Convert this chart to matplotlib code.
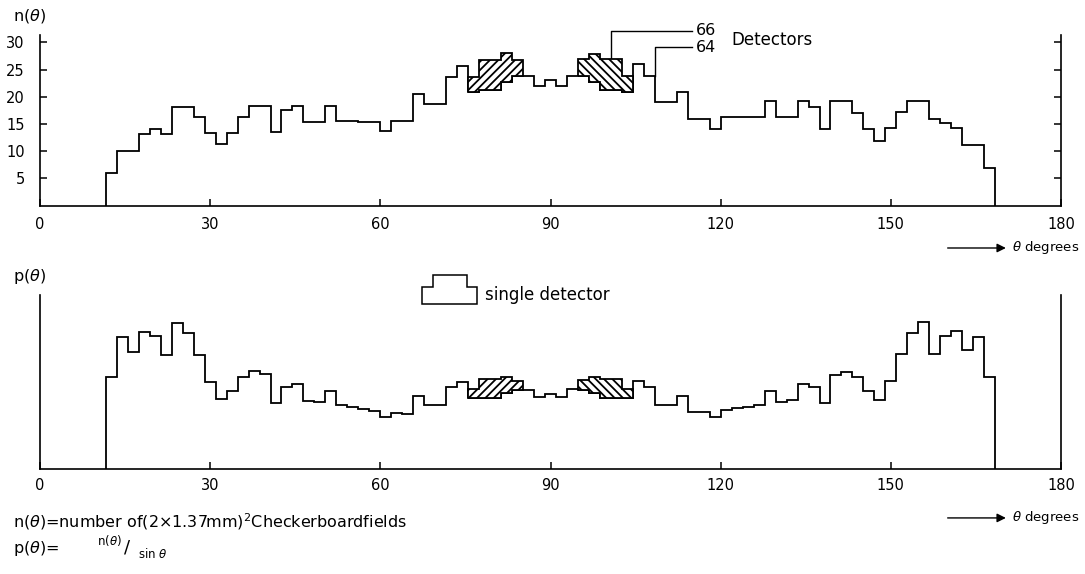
import numpy as np
import matplotlib
matplotlib.use("Agg")
import matplotlib.pyplot as plt
from matplotlib.patches import Polygon

plt.rcParams['font.family'] = ['DejaVu Sans']
plt.rcParams['hatch.linewidth'] = 1.3
plt.rcParams['mathtext.fontset'] = 'dejavusans'

# ---------------- data ----------------
theta_first, theta_last, n_bins = 11.6, 168.4, 81
x_ticks = [0, 30, 60, 90, 120, 150, 180]
n_ticks = [5, 10, 15, 20, 25, 30]

# n(theta) for 64 detectors, one value per bin
n64 = [6.0, 10.0, 10.0, 13.2, 14.0, 13.2, 18.2, 18.2, 16.2, 13.3,
       11.3, 13.4, 16.2, 18.4, 18.4, 13.5, 17.5, 18.4, 15.4, 15.4,
       18.4, 15.5, 15.5, 15.4, 15.4, 13.7, 15.6, 15.6, 20.6, 18.7,
       18.7, 23.7, 25.7, 20.9, 21.3, 21.3, 22.8, 23.8, 23.8, 22.0,
       23.0, 22.0, 23.8, 23.8, 22.8, 21.3, 21.3, 20.9, 26.0, 23.8,
       19.1, 19.1, 20.9, 16.0, 16.0, 14.1, 16.2, 16.2, 16.2, 16.2,
       19.2, 16.2, 16.2, 19.2, 18.1, 14.1, 19.2, 19.2, 17.1, 14.1,
       11.9, 14.2, 17.2, 19.2, 19.2, 16.0, 15.1, 14.2, 11.1, 11.1,
       7.0]
# n(theta) for 66 detectors where it differs (hatched bins)
left_start, right_start = 33, 43
n66_left = [23.7, 26.8, 26.8, 28.0, 26.8]
n66_right = [26.9, 27.9, 26.9, 26.9, 23.8]

# p(theta) = n(theta)/sin(theta)
p64 = [27.9, 40.2, 35.6, 41.7, 40.4, 34.6, 44.2, 41.4, 34.6, 26.4,
       21.2, 23.8, 27.9, 29.9, 28.9, 20.2, 25.0, 25.9, 20.8, 20.3,
       23.8, 19.4, 18.8, 18.3, 17.8, 15.8, 17.0, 16.8, 22.2, 19.5,
       19.5, 24.8, 26.3, 21.5, 21.7, 21.6, 23.0, 23.9, 24.0, 21.8,
       22.7, 21.8, 24.2, 23.9, 23.0, 21.6, 21.7, 21.5, 26.8, 25.0,
       19.5, 19.5, 22.2, 17.5, 17.5, 15.8, 18.0, 18.5, 19.0, 19.4,
       23.8, 20.5, 21.0, 25.8, 25.0, 20.2, 28.6, 29.6, 27.9, 23.8,
       21.0, 26.8, 34.9, 41.4, 44.7, 34.9, 40.4, 41.9, 36.2, 40.2,
       28.1]
p66_left = [24.4, 27.3, 27.3, 28.1, 26.7]
p66_right = [26.9, 28.1, 27.3, 27.3, 24.4]

edges = np.linspace(theta_first, theta_last, n_bins + 1)

# ---------------- figure ----------------
W, H = 1085, 574
fig = plt.figure(figsize=(W / 100, H / 100), dpi=100)
ax1 = fig.add_axes([40 / W, 1 - 205.6 / H, 1021 / W, 170.6 / H])
ax2 = fig.add_axes([40 / W, 1 - 469.3 / H, 1021 / W, 174.3 / H])

LW = 1.3


def draw_panel(ax, base, left, right):
    base = np.asarray(base)
    ax.stairs(base, edges, baseline=0, color='black', lw=LW, zorder=3)
    for vals, start, hatch in ((left, left_start, '////'), (right, right_start, '\\\\\\\\')):
        sub = edges[start:start + len(vals) + 1]
        ax.stairs(vals, sub, baseline=base[start:start + len(vals)], fill=True,
                  facecolor='white', edgecolor='black', hatch=hatch, lw=LW, zorder=4)
    ax.set_xlim(0, 180)
    ax.set_xticks(x_ticks)
    ax.spines['top'].set_visible(False)
    for s in ('left', 'right', 'bottom'):
        ax.spines[s].set_linewidth(1.2)
    ax.tick_params(axis='x', direction='in', length=5, width=1.1, labelsize=10.5, top=False)


draw_panel(ax1, n64, n66_left, n66_right)
ax1.set_ylim(0, 31.36)
ax1.set_yticks(n_ticks)
ax1.tick_params(axis='x', pad=8)
ax1.tick_params(axis='y', direction='in', length=5, width=1.1, left=True, right=True,
                labelsize=10.5, pad=11)

draw_panel(ax2, p64, p66_left, p66_right)
ax2.set_ylim(0, 52.8)
ax2.set_yticks([])
ax2.tick_params(axis='x', pad=6.5)

# axis titles
fig.text(13 / W, 1 - 16 / H, r'n($\theta$)', fontsize=11.5, va='center', ha='left')
fig.text(13 / W, 1 - 277 / H, r'p($\theta$)', fontsize=11.5, va='center', ha='left')

# detector leader lines and labels
x66 = edges[right_start + 3]
x64 = edges[right_start + 7]
ax1.plot([x66, x66, 114.9], [n66_right[2], 32.15, 32.15], color='black', lw=1.0, clip_on=False)
ax1.plot([x64, x64, 114.9], [n64[right_start + 6], 29.1, 29.1], color='black', lw=1.0, clip_on=False)
ax1.text(115.6, 32.15, '66', fontsize=11.5, va='center', ha='left')
ax1.text(115.6, 29.1, '64', fontsize=11.5, va='center', ha='left')
ax1.text(121.9, 30.5, 'Detectors', fontsize=12, va='center', ha='left')

# theta degrees arrows
for ax, yf in ((ax1, -0.2485), (ax2, -0.279)):
    ax.annotate('', xy=(0.946, yf), xytext=(0.889, yf), xycoords='axes fraction',
                arrowprops=dict(arrowstyle='-|>', color='black', lw=1.0,
                                mutation_scale=13, shrinkA=0, shrinkB=0))
    ax.text(0.952, yf, r'$\theta$ degrees', transform=ax.transAxes, fontsize=9.5,
            va='center', ha='left')

# single detector key (in axes fraction of lower panel)
key = [(0.3738, 0.9466), (0.3738, 1.047), (0.3852, 1.047), (0.3852, 1.117),
       (0.4185, 1.117), (0.4185, 1.047), (0.4277, 1.047), (0.4277, 0.9466)]
ax2.add_patch(Polygon(key, closed=True, fill=False, edgecolor='black', lw=1.1,
                      transform=ax2.transAxes, clip_on=False))
ax2.text(0.4358, 0.998, 'single detector', transform=ax2.transAxes, fontsize=12,
         va='center', ha='left')

# footnotes
fig.text(13 / W, 1 - 522 / H, r'n($\theta$)=number of(2$\times$1.37mm)$^2$Checkerboardfields',
         fontsize=11.5, va='center', ha='left')
fig.text(13 / W, 1 - 548 / H, r'p($\theta$)=', fontsize=11.5, va='center', ha='left')
fig.text(97 / W, 1 - 541 / H, r'n($\theta$)', fontsize=8.5, va='center', ha='left')
fig.text(124 / W, 1 - 548 / H, '/', fontsize=13, va='center', ha='left')
fig.text(138 / W, 1 - 554 / H, r'sin $\theta$', fontsize=8.5, va='center', ha='left')

fig.savefig('out.png', dpi=100)
